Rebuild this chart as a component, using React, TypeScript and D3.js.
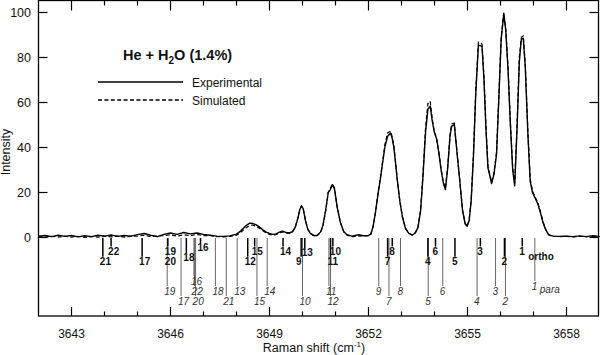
import React from "react";
import * as d3 from "d3";

// ---------- data ----------
const ramanShift = [
  3642.0, 3642.2, 3642.4, 3642.6, 3642.8, 3643.0, 3643.2, 3643.4, 3643.6, 3643.8,
  3644.0, 3644.2, 3644.4, 3644.6, 3644.8, 3645.0, 3645.2, 3645.4, 3645.6, 3645.8,
  3646.0, 3646.2, 3646.4, 3646.6, 3646.8, 3647.0, 3647.2, 3647.4, 3647.6, 3647.8,
  3648.0, 3648.1, 3648.2, 3648.3, 3648.4, 3648.5, 3648.6, 3648.7, 3648.8, 3648.9,
  3649.0, 3649.1, 3649.2, 3649.3, 3649.4, 3649.5, 3649.6, 3649.7, 3649.78, 3649.86,
  3649.92, 3649.97, 3650.02, 3650.09, 3650.16, 3650.24, 3650.35, 3650.45, 3650.55, 3650.62,
  3650.7, 3650.78, 3650.84, 3650.91, 3650.97, 3651.05, 3651.15, 3651.25, 3651.35, 3651.5,
  3651.7, 3651.85, 3652.0, 3652.07, 3652.14, 3652.21, 3652.29, 3652.36, 3652.43, 3652.5,
  3652.58, 3652.67, 3652.72, 3652.77, 3652.82, 3652.87, 3652.95, 3653.03, 3653.12, 3653.22,
  3653.32, 3653.42, 3653.5, 3653.58, 3653.65, 3653.73, 3653.8, 3653.87, 3653.93, 3653.99,
  3654.07, 3654.13, 3654.2, 3654.27, 3654.33, 3654.4, 3654.47, 3654.52, 3654.6, 3654.68,
  3654.76, 3654.85, 3654.93, 3654.99, 3655.05, 3655.11, 3655.18, 3655.25, 3655.33, 3655.44,
  3655.5, 3655.56, 3655.62, 3655.66, 3655.73, 3655.8, 3655.88, 3655.95, 3656.02, 3656.1,
  3656.16, 3656.23, 3656.3, 3656.37, 3656.43, 3656.5, 3656.57, 3656.63, 3656.69, 3656.75,
  3656.83, 3656.9, 3656.97, 3657.05, 3657.13, 3657.21, 3657.29, 3657.37, 3657.46, 3657.6,
  3657.8, 3658.0, 3658.2, 3658.4, 3658.6, 3658.8, 3659.0,
];

const experimental = [
  0.6, 0.9, 0.4, 1.0, 0.5, 0.9, 0.3, 0.8, 0.4, 1.0,
  0.6, 1.1, 0.5, 0.9, 0.6, 1.3, 1.8, 1.0, 0.4, 1.4,
  2.0, 1.4, 2.2, 1.6, 2.0, 1.4, 1.0, 0.6, 0.5, 0.7,
  1.5, 2.6, 4.0, 5.4, 6.4, 6.2, 5.6, 4.6, 3.4, 2.4,
  1.8, 1.4, 1.6, 2.4, 2.8, 2.2, 2.0, 2.6, 4.5, 8.5,
  12.5, 14.0, 12.8, 7.5, 3.6, 1.8, 0.8, 1.0, 2.5, 5.5,
  12.0, 20.0, 21.2, 23.5, 21.5, 13.5, 6.5, 2.6, 1.2, 0.6,
  1.2, 0.8, 0.9, 1.5, 5.0, 11.0, 19.5, 26.0, 33.5, 40.5,
  45.0, 46.4, 44.0, 40.0, 33.0, 26.0, 16.0, 9.0, 4.0, 1.8,
  1.0, 2.0, 4.5, 12.0, 27.0, 47.0, 57.0, 58.4, 52.0, 47.0,
  43.5, 37.8, 30.0, 24.0, 21.3, 31.0, 45.0, 49.5, 50.2, 38.0,
  26.0, 12.0, 6.0, 5.0, 7.5, 16.0, 36.0, 64.0, 85.5, 85.0,
  70.0, 48.0, 31.0, 28.5, 24.0, 28.0, 37.0, 62.0, 88.0, 99.5,
  92.0, 74.0, 50.0, 30.0, 23.0, 48.0, 78.0, 88.0, 88.6, 76.0,
  46.0, 25.0, 20.0, 17.5, 15.0, 11.0, 6.5, 3.5, 1.2, 0.6,
  0.5, 0.6, 0.4, 0.7, 0.4, 0.8, 0.5,
];

const simulated = [
  0.3, 0.2, 0.5, 0.2, 0.6, 0.2, 0.5, 0.1, 0.4, 0.2,
  0.5, 0.3, 0.6, 0.2, 0.5, 0.6, 1.0, 0.4, 0.6, 0.8,
  1.2, 0.6, 1.2, 0.8, 1.4, 0.8, 0.9, 0.4, 0.3, 0.5,
  1.0, 2.0, 3.2, 4.4, 5.4, 5.5, 5.0, 4.0, 3.0, 2.0,
  1.4, 1.0, 1.3, 2.0, 2.5, 2.0, 1.8, 2.6, 4.6, 8.6,
  12.6, 14.1, 13.0, 7.6, 3.8, 1.8, 0.7, 0.9, 2.3, 5.2,
  11.5, 20.0, 21.8, 23.8, 22.0, 13.8, 6.8, 2.6, 1.0, 0.4,
  0.6, 0.7, 0.8, 1.4, 4.8, 11.0, 20.0, 26.5, 34.0, 41.5,
  46.5, 47.3, 44.5, 40.5, 33.5, 26.0, 16.2, 9.0, 4.2, 2.0,
  1.2, 2.2, 4.8, 12.5, 28.0, 49.0, 59.5, 60.6, 53.0, 47.5,
  43.5, 38.0, 30.5, 24.5, 21.8, 31.5, 45.5, 50.5, 50.8, 38.5,
  26.5, 12.0, 6.2, 5.0, 8.0, 16.5, 37.0, 65.0, 86.8, 86.0,
  71.0, 49.0, 31.5, 29.0, 24.5, 28.5, 38.0, 63.0, 89.0, 100.0,
  92.5, 75.0, 51.0, 31.0, 24.0, 49.0, 80.0, 89.0, 89.6, 77.0,
  47.0, 26.0, 20.5, 18.0, 15.5, 11.5, 7.0, 3.5, 1.2, 0.5,
  0.4, 0.5, 0.3, 0.5, 0.4, 0.5, 0.4,
];

// ortho transitions (bold labels); tier = label level below the baseline
const orthoLabels = ["1", "2", "3", "4", "5", "6", "7", "8", "9", "10", "11", "12", "13", "14", "15", "16", "17", "18", "19", "20", "21", "22"];
const orthoShift = [3656.66, 3656.12, 3655.39, 3653.80, 3654.62, 3654.03, 3652.58, 3652.72, 3649.96, 3650.92, 3650.85, 3648.34, 3650.07, 3649.41, 3648.55, 3646.91, 3645.14, 3646.48, 3645.92, 3645.92, 3643.95, 3644.20];
const orthoTier = [1, 2, 1, 2, 2, 1, 2, 1, 2, 1, 2, 2, 1.15, 1, 1, 0.65, 2, 1.65, 1, 2, 2, 1];
// which side of its stick a label sits on
const orthoSide = ["r", "r", "r", "r", "r", "r", "r", "r", "l", "r", "r", "r", "r", "r", "r", "r", "r", "r", "r", "r", "r", "r"];

// para transitions (italic labels)
const paraLabels = ["1", "2", "3", "4", "5", "6", "7", "8", "9", "10", "11", "12", "13", "14", "15", "16", "17", "18", "19", "20", "21", "22"];
const paraShift = [3657.04, 3656.15, 3655.85, 3655.29, 3653.81, 3654.25, 3652.62, 3652.97, 3652.31, 3650.00, 3650.80, 3650.85, 3648.02, 3648.93, 3648.62, 3646.71, 3646.32, 3647.36, 3645.90, 3646.76, 3647.69, 3646.73];
const paraTier = [0.5, 2, 1, 2, 2, 1, 2, 1, 1, 2, 1, 2, 1, 1, 2, 0, 2, 1, 1, 2, 2, 1];

const xMajorTicks = [3643, 3646, 3649, 3652, 3655, 3658];
const xMinorTicks = [3644, 3645, 3647, 3648, 3650, 3651, 3653, 3654, 3656, 3657];
const yTicks = [0, 20, 40, 60, 80, 100];

const FONT = "'Liberation Sans', Arial, Helvetica, sans-serif";

export default function App() {
  const left = 38.5, right = 598.5, top = 0.5, bottom = 316;
  const x = d3.scaleLinear().domain([3642, 3659]).range([38.5, 599.5]);
  const y = d3.scaleLinear().domain([0, 100]).range([237.5, 12.5]);

  const lineGen = (vals: number[]) =>
    d3.line<number>()
      .x((_, i) => x(ramanShift[i]))
      .y((d) => y(d))(vals) as string;

  const orthoY = (t: number) => 240.8 + t * 10.2; // label center
  const paraY = (t: number) => 281 + t * 10;

  return (
    <svg width={600} height={355} style={{ position: "absolute", left: 0, top: 0, background: "#fff" }} fontFamily={FONT}>
      <rect x={0} y={0} width={600} height={355} fill="#fff" />
      {/* frame */}
      <rect x={left} y={top} width={right - left} height={bottom - top} fill="none" stroke="#000" strokeWidth={1.3} />

      {/* x ticks */}
      {xMajorTicks.map((t) => (
        <g key={"xm" + t}>
          <line x1={x(t)} x2={x(t)} y1={bottom} y2={bottom - 9} stroke="#000" strokeWidth={1.2} />
          <line x1={x(t)} x2={x(t)} y1={top} y2={top + 10} stroke="#000" strokeWidth={1.2} />
          <text x={x(t)} y={338} fontSize={12} textAnchor="middle" fill="#111">{t}</text>
        </g>
      ))}
      {xMinorTicks.map((t) => (
        <g key={"xn" + t}>
          <line x1={x(t)} x2={x(t)} y1={bottom} y2={bottom - 4.5} stroke="#000" strokeWidth={1.2} />
          <line x1={x(t)} x2={x(t)} y1={top} y2={top + 5} stroke="#000" strokeWidth={1.2} />
        </g>
      ))}
      {/* y ticks */}
      {yTicks.map((t) => (
        <g key={"y" + t}>
          <line x1={left} x2={left + 9} y1={y(t)} y2={y(t)} stroke="#000" strokeWidth={1.2} />
          <line x1={right} x2={right - 9} y1={y(t)} y2={y(t)} stroke="#000" strokeWidth={1.2} />
          <text x={31} y={y(t) + 4.4} fontSize={12.5} textAnchor="end" fill="#111">{t}</text>
        </g>
      ))}

      {/* axis titles */}
      <text transform="translate(9.5,152) rotate(-90)" fontSize={12.5} textAnchor="middle" fill="#111">Intensity</text>
      <text x={314} y={352} fontSize={12.5} textAnchor="middle" fill="#111">
        Raman shift (cm<tspan dy={-5} fontSize={8}>-1</tspan><tspan dy={5}>)</tspan>
      </text>

      {/* title + legend */}
      <text x={123} y={60} fontSize={14.5} fontWeight="bold" fill="#111">
        He + H<tspan dy={3.5} fontSize={10}>2</tspan><tspan dy={-3.5}>O (1.4%)</tspan>
      </text>
      <line x1={98} x2={183} y1={82} y2={82} stroke="#000" strokeWidth={1.4} />
      <text x={192} y={86.5} fontSize={12} fill="#111">Experimental</text>
      <line x1={98} x2={183} y1={100} y2={100} stroke="#000" strokeWidth={1.3} strokeDasharray="4,2.4" />
      <text x={192} y={104.5} fontSize={12} fill="#111">Simulated</text>

      {/* para sticks */}
      {paraShift.map((v, i) => (
        <line key={"ps" + i} x1={x(v)} x2={x(v)} y1={238} y2={paraY(paraTier[i]) - 5} stroke="#666" strokeWidth={1} />
      ))}
      {/* ortho sticks */}
      {orthoShift.map((v, i) =>
        orthoLabels[i] === "20" ? null : (
          <line key={"os" + i} x1={x(v)} x2={x(v)}
            y1={238}
            y2={orthoY(orthoTier[i]) - 4.5}
            stroke="#000" strokeWidth={1.5} />
        )
      )}
      {/* labels */}
      {orthoShift.map((v, i) => (
        <text key={"ol" + i}
          x={orthoSide[i] === "l" ? x(v) + 0.5 : x(v) - 3}
          textAnchor={orthoSide[i] === "l" ? "end" : "start"}
          y={orthoY(orthoTier[i]) + 3.6} fontSize={10} fontWeight="bold" fill="#111">{orthoLabels[i]}</text>
      ))}
      {paraShift.map((v, i) => (
        <text key={"pl" + i} x={x(v) - 3} y={paraY(paraTier[i]) + 3.6} fontSize={10} fontStyle="italic" fill="#333">{paraLabels[i]}</text>
      ))}
      <text x={x(orthoShift[0]) + 6} y={259.5} fontSize={10} fontWeight="bold" fill="#111">ortho</text>
      <text x={x(paraShift[0]) + 5} y={293} fontSize={10} fontStyle="italic" fill="#333">para</text>

      {/* spectra */}
      <path d={lineGen(simulated)} fill="none" stroke="#000" strokeWidth={1.2} strokeDasharray="4,2.4" />
      <path d={lineGen(experimental)} fill="none" stroke="#000" strokeWidth={1.4} strokeLinejoin="round" />
    </svg>
  );
}
